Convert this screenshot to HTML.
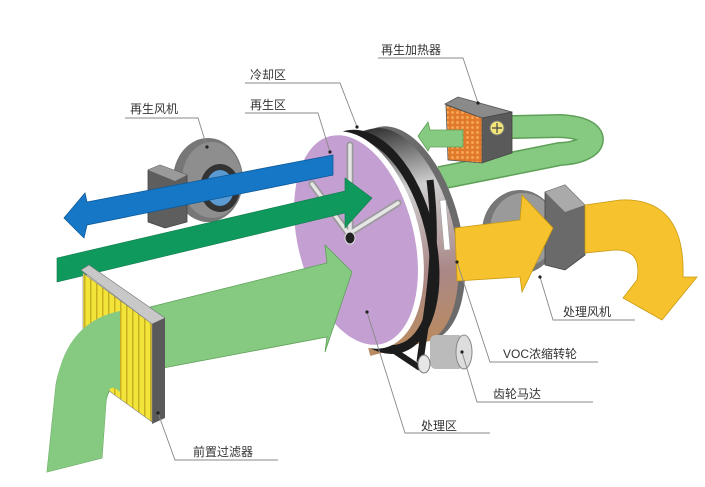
<!DOCTYPE html>
<html><head><meta charset="utf-8"><style>
html,body{margin:0;padding:0;background:#fff;}
svg{display:block;}
text{font-family:"Liberation Sans","Noto Sans CJK SC",sans-serif;font-size:12px;fill:#333;}
</style></head><body>
<svg width="705" height="487" viewBox="0 0 705 487" xmlns="http://www.w3.org/2000/svg">
<defs>
<linearGradient id="metal" x1="0" y1="0" x2="1" y2="0">
<stop offset="0" stop-color="#555"/><stop offset="0.4" stop-color="#ddd"/><stop offset="0.7" stop-color="#999"/><stop offset="1" stop-color="#444"/>
</linearGradient>
<linearGradient id="rimg" x1="0" y1="0" x2="0" y2="1">
<stop offset="0" stop-color="#333"/><stop offset="0.3" stop-color="#cfcfcf"/><stop offset="0.7" stop-color="#a88"/><stop offset="1" stop-color="#b98a60"/>
</linearGradient>
<pattern id="stripes" width="6" height="10" patternUnits="userSpaceOnUse">
<rect width="6" height="10" fill="#f3e43a"/><rect width="1.5" height="10" fill="#c9b020"/>
</pattern>
<pattern id="hex" width="5" height="5" patternUnits="userSpaceOnUse">
<rect width="5" height="5" fill="#e07a2a"/><circle cx="2.5" cy="2.5" r="1.5" fill="#f7a455"/>
</pattern>
</defs>

<!-- regeneration green loop (top right) -->
<path d="M465,128 L560,126 C605,128 600,152 560,154 L440,178" fill="none" stroke="#5fa058" stroke-width="24"/>
<path d="M465,128 L560,126 C605,128 600,152 560,154 L440,178" fill="none" stroke="#86c980" stroke-width="21"/>

<!-- heater -->
<polygon points="445,104 458,97 512,112 482,118" fill="#8a8a8a" stroke="#555" stroke-width="0.8"/>
<polygon points="482,118 512,112 512,153 482,163" fill="#5a5a5a" stroke="#444" stroke-width="0.8"/>
<polygon points="446,105 482,118 482,163 448,160" fill="url(#hex)" stroke="#555" stroke-width="0.8"/>
<circle cx="497" cy="128" r="7" fill="#f2e57a" stroke="#777"/>
<path d="M497,123 V133 M492,128 H502" stroke="#444" stroke-width="1.2"/>
<!-- green arrow into wheel -->
<polygon points="463,130 430,130 428,122 418,136 428,151 430,147 463,147" fill="#86c980" stroke="#5fa058" stroke-width="0.8"/>

<!-- process fan -->
<ellipse cx="520" cy="232" rx="38" ry="42" fill="#777"/>
<ellipse cx="523" cy="230" rx="33" ry="37" fill="#9a9a9a"/>
<polygon points="545,192 565,185 585,205 585,255 565,270 545,265" fill="#6a6a6a" stroke="#444" stroke-width="0.8"/>
<polygon points="545,192 565,185 585,205 565,212" fill="#aaa"/>
<!-- yellow bend after fan -->
<path d="M585,205 L620,200 C660,198 685,220 683,277 L697,277 L662,320 L623,298 L637,280 C640,262 636,250 615,250 L585,253 Z" fill="#f6c22e" stroke="#c89a10" stroke-width="0.8"/>

<!-- wheel metal cylinder -->
<g transform="rotate(-14 380 238)">
<ellipse cx="405" cy="240" rx="56" ry="110" fill="#6b6b6b"/>
<ellipse cx="398" cy="240" rx="56" ry="110" fill="url(#rimg)"/>
<rect x="342" y="130" width="56" height="220" fill="url(#rimg)"/>
<ellipse cx="372" cy="240" rx="58" ry="110" fill="none" stroke="#1c1c1c" stroke-width="9" stroke-dasharray="0 0"/>
</g>
<rect x="442" y="200" width="6" height="50" fill="#fff" stroke="#999" stroke-width="0.5" transform="rotate(-5 445 225)"/>

<!-- yellow process arrow -->
<polygon points="455,228 520,220 522,195 553,228 522,292 520,277 457,281" fill="#f6c22e" stroke="#c89a10" stroke-width="0.8"/>

<!-- belt to motor -->
<path d="M430,180 C440,260 425,320 420,362" fill="none" stroke="#1c1c1c" stroke-width="7"/>
<path d="M372,336 L420,368" fill="none" stroke="#1c1c1c" stroke-width="6"/>
<!-- motor -->
<rect x="430" y="335" width="34" height="34" rx="6" fill="#bbb"/>
<ellipse cx="464" cy="352" rx="8" ry="17" fill="#ddd" stroke="#888"/>
<ellipse cx="424" cy="364" rx="6" ry="9" fill="#e6e6e6" stroke="#777"/>

<!-- purple disc -->
<ellipse cx="358" cy="240" rx="62" ry="111" transform="rotate(-14 358 240)" fill="#fff"/>
<ellipse cx="356" cy="240" rx="58" ry="107" transform="rotate(-14 356 240)" fill="#c49fd2"/>
<!-- spokes -->
<g stroke="#9a9a9a" stroke-width="7" stroke-linecap="round" fill="none">
<path d="M350,145 V233 M312,184 L348,233 M398,203 L350,233"/>
</g>
<g stroke="#e6e6e6" stroke-width="3.5" stroke-linecap="round" fill="none">
<path d="M350,145 V233 M312,184 L348,233 M398,203 L350,233"/>
</g>
<ellipse cx="350" cy="238" rx="5" ry="6" fill="#222" stroke="#ddd"/>

<!-- regeneration fan -->
<ellipse cx="208" cy="180" rx="35" ry="42" fill="#777"/>
<ellipse cx="212" cy="180" rx="30" ry="38" fill="#8e8e8e"/>
<polygon points="148,170 160,165 187,175 187,222 165,228 148,222" fill="#5e5e5e" stroke="#444" stroke-width="0.8"/>
<polygon points="148,170 160,165 187,175 175,181" fill="#9a9a9a"/>
<ellipse cx="220" cy="188" rx="20" ry="24" fill="#333"/>
<ellipse cx="220" cy="188" rx="14" ry="18" fill="#5a9ad0"/>
<!-- blue arrow -->
<polygon points="333,155 333,175 87,225 84,238 64,218 85,193 87,202" fill="#1677c6" stroke="#0d5a99" stroke-width="0.8"/>

<!-- dark green band arrow -->
<polygon points="57,258 345,191 345,178 372,198 345,228 345,213 57,282" fill="#10995c" stroke="#0a7a48" stroke-width="0.6"/>

<!-- big green arrow -->
<path d="M47,472 L56,385 Q66,322 150,307 L327,263 L325,245 L352,272 L325,352 L327,337 L163,368 L150,370 Q108,378 106,402 L102,458 Z" fill="#86c980" stroke="#5fa058" stroke-width="0.8"/>

<!-- filter -->
<polygon points="81,270 89,265 165,318 152,324" fill="#c8c8c8" stroke="#777" stroke-width="0.6"/>
<polygon points="152,324 165,318 165,418 152,424" fill="#5a5a5a"/>
<polygon points="83,273 152,324 152,422 83,372" fill="url(#stripes)" stroke="#888" stroke-width="0.6"/>
<path d="M56,385 Q66,322 120,311 L120,392 Q108,380 106,402 L102,458 L47,472 Z" fill="#86c980"/>

<!-- leaders -->
<g stroke="#888" stroke-width="0.9" fill="none">
<path d="M378,58 H463 L478,103"/>
<path d="M245,83 H340 L357,127"/>
<path d="M245,113 H318 L330,152"/>
<path d="M125,118 H198 L207,147"/>
<path d="M635,320 H553 L540,277"/>
<path d="M598,362 H490 L457,262"/>
<path d="M593,402 H477 L462,352"/>
<path d="M490,433 H405 L367,312"/>
<path d="M278,460 H175 L158,413"/>
</g>
<g fill="#222">
<circle cx="478" cy="103" r="1.6"/><circle cx="357" cy="127" r="1.6"/><circle cx="330" cy="152" r="1.6"/>
<circle cx="207" cy="147" r="1.6"/><circle cx="540" cy="277" r="1.6"/><circle cx="457" cy="262" r="1.6"/>
<circle cx="462" cy="352" r="1.6"/><circle cx="367" cy="312" r="1.6"/><circle cx="158" cy="413" r="1.6"/>
</g>

<!-- labels -->
<text x="381" y="54">再生加热器</text>
<text x="250" y="79">冷却区</text>
<text x="250" y="109">再生区</text>
<text x="130" y="113">再生风机</text>
<text x="563" y="316">处理风机</text>
<text x="503" y="358">VOC浓缩转轮</text>
<text x="493" y="398">齿轮马达</text>
<text x="421" y="430">处理区</text>
<text x="193" y="456">前置过滤器</text>
</svg>
</body></html>
